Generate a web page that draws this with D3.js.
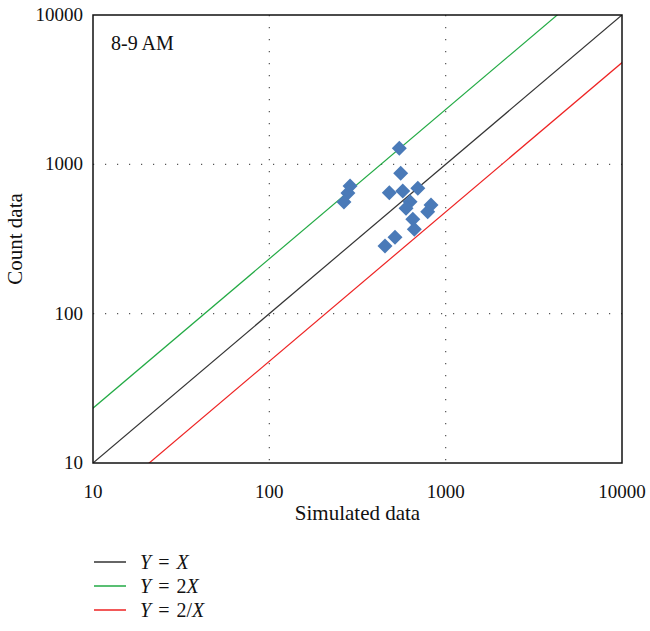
<!DOCTYPE html>
<html>
<head>
<meta charset="utf-8">
<script src="https://cdn.jsdelivr.net/npm/d3@7"></script>
<style>
  body { margin: 0; background: #fff; }
  text { font-family: "Liberation Serif", "DejaVu Serif", serif; fill: #111; }
</style>
</head>
<body>
<svg id="chart" width="650" height="631"></svg>
<script>
// simulated vs counted flows, 8-9 AM
var simulated = [546, 556, 479, 571, 695, 628, 596, 826, 791, 651, 664, 516, 453, 287, 279, 265];
var counted   = [1282, 871, 646, 663, 692, 562, 508, 535, 482, 429, 367, 325, 284, 717, 643, 560];

var tickValues = [10, 100, 1000, 10000];
var gridValues = [100, 1000];

// reference lines: y = ratio * x
var lineNames  = ["Y = X", "Y = 2X", "Y = 2/X"];
var lineRatios = [1, 2.33, 0.48];
var lineColors = ["#333333", "#22aa44", "#ee2222"];

var svg = d3.select("#chart");

// plot box (note: "top" is reserved on window, so use other names)
var plotL = 93, plotR = 622, plotT = 15, plotB = 463;

var x = d3.scaleLog().domain([10, 10000]).range([plotL, plotR]);
var y = d3.scaleLog().domain([10, 10000]).range([plotB, plotT]);

// clip for the lines
svg.append("clipPath").attr("id", "plotclip")
    .append("rect")
    .attr("x", plotL).attr("y", plotT)
    .attr("width", plotR - plotL).attr("height", plotB - plotT);

// dotted grid
var grid = svg.append("g").attr("class", "grid");
grid.selectAll(".vgrid")
    .data(gridValues)
    .enter().append("line")
    .attr("class", "vgrid")
    .attr("x1", d => x(d)).attr("x2", d => x(d))
    .attr("y1", plotT).attr("y2", plotB)
    .attr("stroke", "#555").attr("stroke-width", 1.2)
    .attr("stroke-dasharray", "1.2,10.8");
grid.selectAll(".hgrid")
    .data(gridValues)
    .enter().append("line")
    .attr("class", "hgrid")
    .attr("y1", d => y(d)).attr("y2", d => y(d))
    .attr("x1", plotL).attr("x2", plotR)
    .attr("stroke", "#555").attr("stroke-width", 1.2)
    .attr("stroke-dasharray", "1.2,10.8");

// reference lines
var lines = svg.append("g").attr("clip-path", "url(#plotclip)");
lines.selectAll("line")
    .data(lineRatios)
    .enter().append("line")
    .attr("x1", x(1)).attr("y1", r => y(r * 1))
    .attr("x2", x(100000)).attr("y2", r => y(r * 100000))
    .attr("stroke", (r, i) => lineColors[i])
    .attr("stroke-width", 1.2);

// diamonds
var pts = simulated.map((s, i) => ({ s: s, c: counted[i] }));
svg.append("g").selectAll("path")
    .data(pts)
    .enter().append("path")
    .attr("transform", d => "translate(" + x(d.s) + "," + y(d.c) + ")")
    .attr("d", "M0,-7.5L7.5,0L0,7.5L-7.5,0Z")
    .attr("fill", "#4a7ab8");

// frame
svg.append("rect")
    .attr("x", plotL).attr("y", plotT)
    .attr("width", plotR - plotL).attr("height", plotB - plotT)
    .attr("fill", "none").attr("stroke", "#111").attr("stroke-width", 1.5);

// tick labels
svg.append("g").selectAll("text")
    .data(tickValues)
    .enter().append("text")
    .attr("x", d => x(d)).attr("y", plotB + 35)
    .attr("text-anchor", "middle")
    .style("font-size", "19px")
    .text(d => d);
svg.append("g").selectAll("text")
    .data(tickValues)
    .enter().append("text")
    .attr("x", plotL - 10).attr("y", d => y(d) + 6)
    .attr("text-anchor", "end")
    .style("font-size", "19px")
    .text(d => d);

// axis titles
svg.append("text")
    .attr("x", (plotL + plotR) / 2).attr("y", 520)
    .attr("text-anchor", "middle")
    .style("font-size", "21px")
    .text("Simulated data");
svg.append("text")
    .attr("transform", "translate(22," + ((plotT + plotB) / 2) + ") rotate(-90)")
    .attr("text-anchor", "middle")
    .style("font-size", "21px")
    .text("Count data");

svg.append("text")
    .attr("x", 111).attr("y", 50)
    .style("font-size", "20px")
    .text("8-9 AM");

// legend
var legend = svg.append("g").selectAll("g")
    .data(lineNames)
    .enter().append("g")
    .attr("transform", (d, i) => "translate(94," + (562 + i * 24) + ")");
legend.append("line")
    .attr("x1", 0).attr("x2", 32)
    .attr("stroke", (d, i) => lineColors[i])
    .attr("stroke-width", 1.5);

// "Y = 2X": italic Y and X, upright middle part, wide spacing round "="
var coef = d => d.replace("Y = ", "").replace("X", "");
var lt = legend.append("text")
    .attr("x", 46).attr("y", 7)
    .style("font-size", "20px");
lt.append("tspan").style("font-style", "italic").text("Y");
lt.append("tspan").attr("dx", 7).text("=");
lt.append("tspan").attr("dx", d => coef(d) ? 7 : 0).text(coef);
lt.append("tspan").attr("dx", d => coef(d) ? 0 : 7)
    .style("font-style", "italic").text("X");
</script>
</body>
</html>
